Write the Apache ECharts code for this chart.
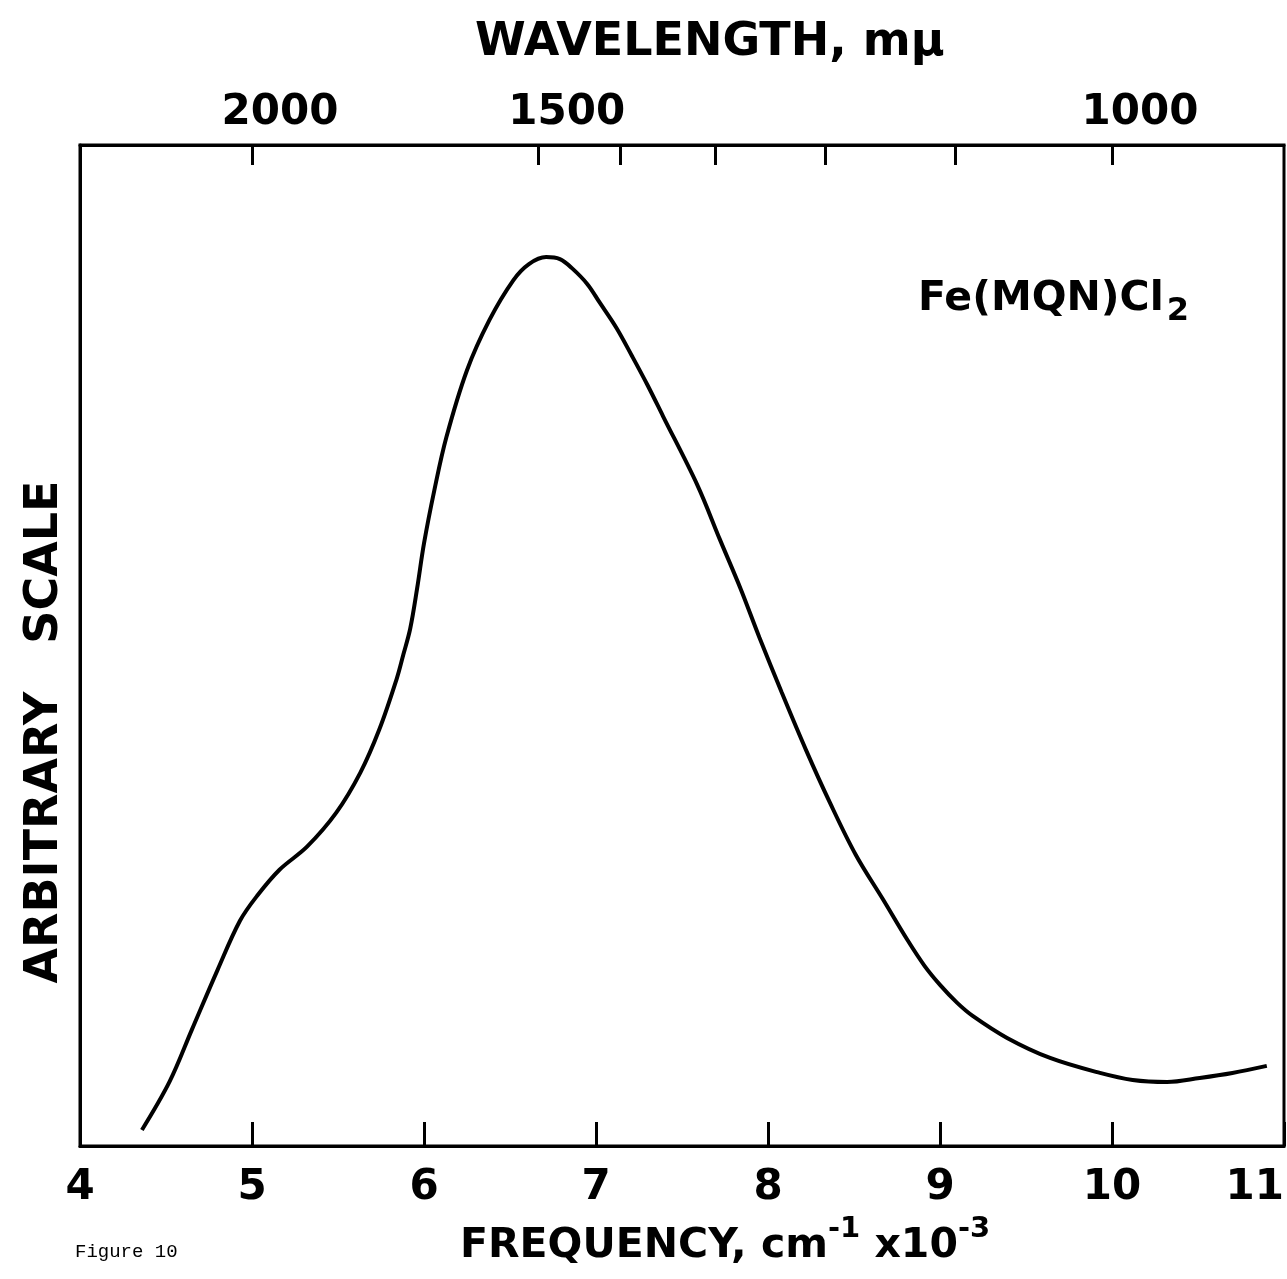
<!DOCTYPE html>
<html><head><meta charset="utf-8">
<script src="https://cdn.jsdelivr.net/npm/echarts@6/dist/echarts.min.js"></script>
<style>html,body{margin:0;padding:0;background:#fff}#c{width:1287px;height:1279px}</style>
</head><body><div id="c"></div>
<script>
const freq = [4.36,4.52,4.65,4.80,4.93,5.03,5.16,5.32,5.49,5.63,5.74,5.84,5.88,5.92,5.96,6.00,6.06,6.13,6.25,6.38,6.52,6.61,6.71,6.79,6.86,6.95,7.02,7.12,7.21,7.30,7.39,7.59,7.72,7.84,7.95,8.08,8.22,8.36,8.51,8.67,8.81,8.91,9.00,9.10,9.19,9.39,9.64,9.93,10.12,10.32,10.51,10.70,10.90];
const absorb = [1.6,6.4,11.6,17.6,22.5,25.0,27.6,29.9,33.3,37.3,41.6,46.6,49.1,51.7,55.7,60.2,65.5,70.8,77.5,82.5,86.5,88.1,88.8,88.6,87.7,86.1,84.3,81.7,78.9,76.0,72.9,66.0,60.6,55.7,50.8,45.3,39.6,34.3,29.1,24.6,20.6,18.0,16.1,14.3,13.0,10.8,8.8,7.3,6.6,6.4,6.8,7.3,8.0];
const freqTicks = [4,5,6,7,8,9,10,11];
const wavelengthTicks = [2000,1500,1400,1300,1200,1100,1000];
const wavelengthLabels = [2000,1500,1000];

const toFreq = w => 1e4 / w;
const FONT = 'DejaVu Sans';
const chart = echarts.init(document.getElementById('c'), null, {renderer:'canvas'});
chart.setOption({
  animation: false,
  backgroundColor: '#fff',
  grid: {left: 80, right: 2, top: 145, bottom: 133, show: true, borderColor: '#000', borderWidth: 3},
  xAxis: [{
    type: 'value', position: 'bottom', min: freqTicks[0], max: freqTicks[freqTicks.length-1], interval: 1,
    axisLine: {show: true, lineStyle: {color: '#000', width: 3}},
    axisTick: {show: true, inside: true, length: 24, lineStyle: {color: '#000', width: 3}},
    axisLabel: {show: true, color: '#000', fontFamily: FONT, fontWeight: 'bold', fontSize: 42, margin: 21, alignMaxLabel: 'right'},
    splitLine: {show: false}
  }, {
    type: 'value', position: 'top', min: freqTicks[0], max: freqTicks[freqTicks.length-1],
    axisLine: {show: true, lineStyle: {color: '#000', width: 3}},
    axisTick: {show: true, inside: true, length: 20, lineStyle: {color: '#000', width: 3}, customValues: wavelengthTicks.map(toFreq)},
    axisLabel: {show: true, color: '#000', fontFamily: FONT, fontWeight: 'bold', fontSize: 42, margin: 11,
      padding: [0,0,0,56], customValues: wavelengthLabels.map(toFreq),
      formatter: v => String(Math.round(1e4 / v / 100) * 100)},
    splitLine: {show: false}
  }],
  yAxis: {
    type: 'value', min: 0, max: 100,
    axisLine: {show: true, lineStyle: {color: '#000', width: 3}},
    axisTick: {show: false}, axisLabel: {show: false}, splitLine: {show: false}
  },
  series: [{
    type: 'line', xAxisIndex: 0, smooth: 0.35, symbol: 'none',
    lineStyle: {color: '#000', width: 4},
    data: freq.map((f, i) => [f, absorb[i]])
  }],
  graphic: [
    {type: 'text', left: 475, top: 20, style: {text: 'WAVELENGTH, mμ', fill: '#000', font: 'bold 46px "DejaVu Sans"'}},
    {type: 'text', x: 45, y: 732, rotation: Math.PI / 2, style: {text: 'ARBITRARY   SCALE', fill: '#000', font: 'bold 46px "DejaVu Sans"', align: 'center', verticalAlign: 'middle'}},
    {type: 'text', left: 918, top: 276, style: {text: '{a|Fe(MQN)Cl}{s|2}', fill: '#000', rich: {
      a: {fontFamily: FONT, fontWeight: 'bold', fontSize: 41, fill: '#000', verticalAlign: 'top', lineHeight: 46},
      s: {fontFamily: FONT, fontWeight: 'bold', fontSize: 32, fill: '#000', padding: [20,0,0,3], lineHeight: 46}}}},
    {type: 'text', left: 460, top: 1212, style: {text: '{a|FREQUENCY, cm}{s|-1}{a| x10}{s|-3}', fill: '#000', rich: {
      a: {fontFamily: FONT, fontWeight: 'bold', fontSize: 41, fill: '#000', padding: [14,0,0,0], lineHeight: 56},
      s: {fontFamily: FONT, fontWeight: 'bold', fontSize: 29, fill: '#000', padding: [0,0,20,0], lineHeight: 56}}}},
    {type: 'text', left: 75, top: 1242, style: {text: 'Figure 10', fill: '#000', font: '19px "Liberation Mono"'}}
  ]
});
</script></body></html>
